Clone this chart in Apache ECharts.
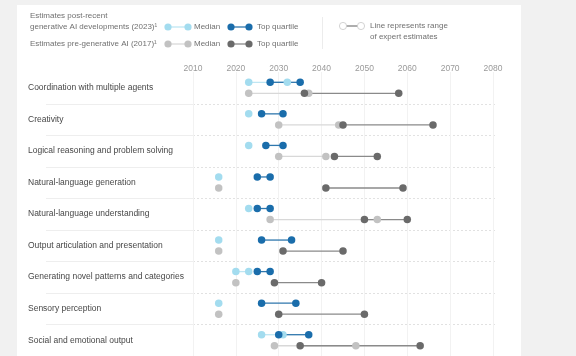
<!DOCTYPE html>
<html>
<head>
<meta charset="utf-8">
<script src="https://cdn.jsdelivr.net/npm/echarts@6/dist/echarts.min.js"></script>
<style>
html,body{margin:0;padding:0;background:#f1f1f1;}
#main{width:576px;height:356px;}
</style>
</head>
<body>
<div id="main"></div>
<script>
// ---- data ----
const categories = [
  'Coordination with multiple agents',
  'Creativity',
  'Logical reasoning and problem solving',
  'Natural-language generation',
  'Natural-language understanding',
  'Output articulation and presentation',
  'Generating novel patterns and categories',
  'Sensory perception',
  'Social and emotional output'
];
const xTicks = [2010, 2020, 2030, 2040, 2050, 2060, 2070, 2080];
// [min, max] of expert estimates
const gen2023Median = [[2023,2032],[2023,2023],[2023,2023],[2016,2016],[2023,2023],[2016,2016],[2020,2023],[2016,2016],[2026,2031]];
const gen2023Top    = [[2028,2035],[2026,2031],[2027,2031],[2025,2028],[2025,2028],[2026,2033],[2025,2028],[2026,2034],[2030,2037]];
const pre2017Median = [[2023,2037],[2030,2044],[2030,2041],[2016,2016],[2028,2053],[2016,2016],[2020,2020],[2016,2016],[2029,2048]];
const pre2017Top    = [[2036,2058],[2045,2066],[2043,2053],[2041,2059],[2050,2060],[2031,2045],[2029,2040],[2030,2050],[2035,2063]];

// ---- styles ----
const FONT = "'Liberation Sans', Arial, sans-serif";
const C = {
  medNew: '#a3dcef', topNew: '#1a6dab',
  medOld: '#c2c2c2', topOld: '#6a6a6a',
  medNewLine: '#bfe6f3', topNewLine: '#2f77ad',
  medOldLine: '#d8d8d8', topOldLine: '#8a8a8a'
};
const OFF = 0.175;

function rangeRows(arr, off){ return arr.map((r,i)=>[r[0], r[1], i+off]); }
function dotRows(arr, off){
  const out=[]; arr.forEach((r,i)=>{ out.push([r[0], i+off]); if(r[1]!==r[0]) out.push([r[1], i+off]); }); return out;
}
function lineSeries(arr, off, color){
  return {
    type:'custom', xAxisIndex:0, yAxisIndex:1, z:3, silent:true,
    data: rangeRows(arr, off),
    encode:{x:[0,1], y:2},
    renderItem:function(params, api){
      const p1 = api.coord([api.value(0), api.value(2)]);
      const p2 = api.coord([api.value(1), api.value(2)]);
      return {type:'line', shape:{x1:p1[0],y1:p1[1],x2:p2[0],y2:p2[1]}, style:{stroke:color, lineWidth:1.3}};
    }
  };
}
function dotSeries(arr, off, color, z){
  return {type:'scatter', xAxisIndex:0, yAxisIndex:1, z:z, silent:true, symbol:'circle', symbolSize:7.5,
    itemStyle:{color:color, opacity:1}, data: dotRows(arr, off)};
}

const chart = echarts.init(document.getElementById('main'), null, {renderer:'canvas'});
const legText = {fill:'#707070', font:'8px ' + FONT};
chart.setOption({
  backgroundColor:'#f1f1f1',
  animation:false,
  textStyle:{fontFamily:FONT},
  grid:[
    {left:193, right:83, top:72.06, bottom:-2.94},
    {left:193, right:81, top:103.94, bottom:-2.94}
  ],
  xAxis:[
    {type:'value', gridIndex:0, position:'top', min:xTicks[0], max:xTicks[xTicks.length-1], interval:10,
      axisLine:{show:false}, axisTick:{show:false},
      axisLabel:{color:'#9a9a9a', fontSize:8.5, margin:-1, fontFamily:FONT, formatter:function(v){return String(v);}},
      splitLine:{show:true, lineStyle:{color:'#f2f2f2', width:1}}},
    {type:'value', gridIndex:1, min:0, max:1, show:false}
  ],
  yAxis:[
    {type:'category', gridIndex:0, inverse:true, data:categories,
      axisLine:{show:false}, axisTick:{show:false}, splitLine:{show:false},
      axisLabel:{color:'#474747', fontSize:8.5, align:'left', margin:165, fontFamily:FONT}},
    {type:'value', gridIndex:0, inverse:true, min:-0.5, max:8.5, show:false},
    {type:'value', gridIndex:1, inverse:true, min:1, max:9, interval:1, offset:18,
      axisLine:{show:false}, axisLabel:{show:false},
      axisTick:{show:true, length:147, lineStyle:{color:'#eeeeee', width:1}},
      splitLine:{show:true, lineStyle:{color:'#dadada', type:[2,2], width:0.8}}}
  ],
  graphic:[
    {type:'rect', z:-100, silent:true, shape:{x:17, y:5, width:504, height:360}, style:{fill:'#ffffff'}},
    {type:'text', left:30, top:12, style:Object.assign({text:'Estimates post-recent'}, legText)},
    {type:'text', left:30, top:23, style:Object.assign({text:'generative AI developments (2023)¹'}, legText)},
    {type:'text', left:30, top:40, style:Object.assign({text:'Estimates pre-generative AI (2017)¹'}, legText)},
    // legend markers row 1
    {type:'line', shape:{x1:168,y1:27,x2:188,y2:27}, style:{stroke:C.medNewLine, lineWidth:1.3}},
    {type:'circle', shape:{cx:168,cy:27,r:3.6}, style:{fill:C.medNew}},
    {type:'circle', shape:{cx:188,cy:27,r:3.6}, style:{fill:C.medNew}},
    {type:'text', left:194, top:23, style:Object.assign({text:'Median'}, legText)},
    {type:'line', shape:{x1:231,y1:27,x2:249,y2:27}, style:{stroke:C.topNewLine, lineWidth:1.3}},
    {type:'circle', shape:{cx:231,cy:27,r:3.6}, style:{fill:C.topNew}},
    {type:'circle', shape:{cx:249,cy:27,r:3.6}, style:{fill:C.topNew}},
    {type:'text', left:257, top:23, style:Object.assign({text:'Top quartile'}, legText)},
    // legend markers row 2
    {type:'line', shape:{x1:168,y1:44,x2:188,y2:44}, style:{stroke:C.medOldLine, lineWidth:1.3}},
    {type:'circle', shape:{cx:168,cy:44,r:3.6}, style:{fill:C.medOld}},
    {type:'circle', shape:{cx:188,cy:44,r:3.6}, style:{fill:C.medOld}},
    {type:'text', left:194, top:40, style:Object.assign({text:'Median'}, legText)},
    {type:'line', shape:{x1:231,y1:44,x2:249,y2:44}, style:{stroke:C.topOldLine, lineWidth:1.3}},
    {type:'circle', shape:{cx:231,cy:44,r:3.6}, style:{fill:C.topOld}},
    {type:'circle', shape:{cx:249,cy:44,r:3.6}, style:{fill:C.topOld}},
    {type:'text', left:257, top:40, style:Object.assign({text:'Top quartile'}, legText)},
    // divider
    {type:'line', shape:{x1:322.5,y1:17,x2:322.5,y2:49}, style:{stroke:'#ececec', lineWidth:1}},
    // range explanation
    {type:'line', shape:{x1:343,y1:26,x2:361,y2:26}, style:{stroke:'#9a9a9a', lineWidth:1.6}},
    {type:'circle', shape:{cx:343,cy:26,r:3.6}, style:{fill:'#ffffff', stroke:'#c8c8c8', lineWidth:0.8}},
    {type:'circle', shape:{cx:361,cy:26,r:3.6}, style:{fill:'#ffffff', stroke:'#c8c8c8', lineWidth:0.8}},
    {type:'text', left:370, top:22, style:Object.assign({text:'Line represents range'}, legText)},
    {type:'text', left:370, top:33, style:Object.assign({text:'of expert estimates'}, legText)}
  ],
  series:[
    lineSeries(pre2017Median, OFF, C.medOldLine),
    lineSeries(pre2017Top, OFF, C.topOldLine),
    lineSeries(gen2023Median, -OFF, C.medNewLine),
    lineSeries(gen2023Top, -OFF, C.topNewLine),
    dotSeries(pre2017Median, OFF, C.medOld, 4),
    dotSeries(pre2017Top, OFF, C.topOld, 5),
    dotSeries(gen2023Median, -OFF, C.medNew, 4),
    dotSeries(gen2023Top, -OFF, C.topNew, 5)
  ]
});
</script>
</body>
</html>
